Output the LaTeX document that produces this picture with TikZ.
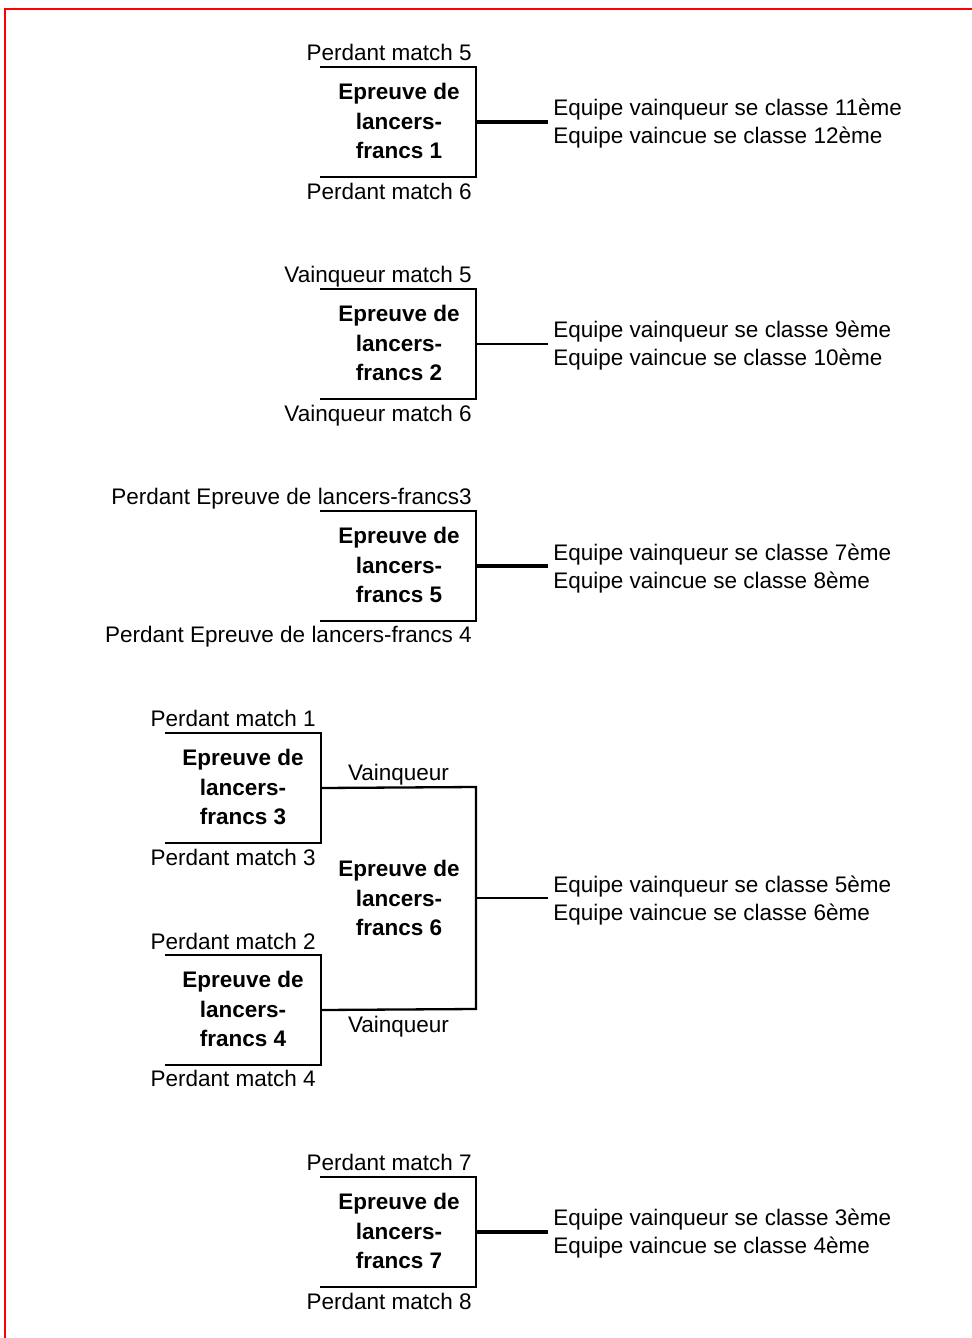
\documentclass[tikz,border=0pt]{standalone}
\usepackage{fontspec}
\setmainfont{Liberation Sans}
\usetikzlibrary{calc}

\begin{document}
\begin{tikzpicture}[x=0.5pt,y=-0.5pt,
  lbl/.style={inner sep=0pt,anchor=base east,font=\fontsize{11.25}{14}\selectfont},
  titre/.style={align=center,inner sep=0pt,font=\fontsize{11.25}{14.75}\selectfont\bfseries},
  res/.style={align=left,inner sep=0pt,anchor=west,font=\fontsize{11.25}{14}\selectfont},
  trait/.style={line width=1.15pt},
  sortie/.style={line width=1.7pt},
  fine/.style={line width=0.8pt}]
 		\useasboundingbox (0,0) rectangle (972,1338);
 		\draw[red,line width=1.1pt] (5,1338) -- (5,9) -- (972,9);

 		% epreuve 1
 		\node[titre]  (e1)  at (399,121)  {Epreuve de\\lancers-\\francs 1};
 		\node[lbl]    (p5)  at (472,61)   {Perdant match 5};
 		\node[lbl]    (p6)  at (472,199)  {Perdant match 6};
 		\node[res]    (r1)  at (553,124)  {Equipe vainqueur se classe 11ème\\Equipe vaincue se classe 12ème};
 		\coordinate (e1a) at (320,67);  \coordinate (e1b) at (476,67);
 		\coordinate (e1c) at (476,177); \coordinate (e1d) at (320,177);
 		\coordinate (e1m) at ($(e1b)!0.5!(e1c)$);
 		\draw[trait]  (e1a) -- (e1b) -- (e1c) -- (e1d);
 		\draw[sortie] (e1m) -- ([xshift=-2.5pt]e1m -| r1.west);

 		% epreuve 2
 		\node[titre]  (e2)  at (399,343)  {Epreuve de\\lancers-\\francs 2};
 		\node[lbl]    (v5)  at (472,282)  {Vainqueur match 5};
 		\node[lbl]    (v6)  at (472,421)  {Vainqueur match 6};
 		\node[res]    (r2)  at (553,346)  {Equipe vainqueur se classe 9ème\\Equipe vaincue se classe 10ème};
 		\coordinate (e2a) at (320,289); \coordinate (e2b) at (476,289);
 		\coordinate (e2c) at (476,399); \coordinate (e2d) at (320,399);
 		\coordinate (e2m) at ($(e2b)!0.5!(e2c)$);
 		\draw[trait]  (e2a) -- (e2b) -- (e2c) -- (e2d);
 		\draw[fine]   (e2m) -- ([xshift=-2.5pt]e2m -| r2.west);

 		% epreuve 5
 		\node[titre]  (e5)  at (399,565)  {Epreuve de\\lancers-\\francs 5};
 		\node[lbl]    (pe3) at (472,504)  {Perdant Epreuve de lancers-francs3};
 		\node[lbl]    (pe4) at (472,642)  {Perdant Epreuve de lancers-francs 4};
 		\node[res]    (r5)  at (553,569)  {Equipe vainqueur se classe 7ème\\Equipe vaincue se classe 8ème};
 		\coordinate (e5a) at (320,511); \coordinate (e5b) at (476,511);
 		\coordinate (e5c) at (476,621); \coordinate (e5d) at (320,621);
 		\coordinate (e5m) at ($(e5b)!0.5!(e5c)$);
 		\draw[trait]  (e5a) -- (e5b) -- (e5c) -- (e5d);
 		\draw[sortie] (e5m) -- ([xshift=-2.5pt]e5m -| r5.west);

 		% epreuves 3 et 4, puis 6
 		\node[titre]  (e3)  at (243,787)  {Epreuve de\\lancers-\\francs 3};
 		\node[lbl]    (p1)  at (316,726)  {Perdant match 1};
 		\node[lbl]    (p3)  at (316,865)  {Perdant match 3};
 		\coordinate (e3a) at (165,733); \coordinate (e3b) at (321,733);
 		\coordinate (e3c) at (321,843); \coordinate (e3d) at (165,843);
 		\draw[trait]  (e3a) -- (e3b) -- (e3c) -- (e3d);

 		\node[titre]  (e4)  at (243,1009) {Epreuve de\\lancers-\\francs 4};
 		\node[lbl]    (p2)  at (316,949)  {Perdant match 2};
 		\node[lbl]    (p4)  at (316,1086) {Perdant match 4};
 		\coordinate (e4a) at (165,955);  \coordinate (e4b) at (321,955);
 		\coordinate (e4c) at (321,1065); \coordinate (e4d) at (165,1065);
 		\draw[trait]  (e4a) -- (e4b) -- (e4c) -- (e4d);

 		\node[titre]  (e6)  at (399,898)  {Epreuve de\\lancers-\\francs 6};
 		\node[res]    (r6)  at (553,901)  {Equipe vainqueur se classe 5ème\\Equipe vaincue se classe 6ème};
 		\coordinate (e6a) at (476,787); \coordinate (e6b) at (476,1009);
 		\coordinate (e6m) at ($(e6a)!0.5!(e6b)$);
 		\draw[trait]  ($(e3b)!0.5!(e3c)$) -- node[above=-2.5pt,font=\fontsize{11.25}{14}\selectfont] (w3) {Vainqueur} (e6a)
 		              -- (e6b) -- node[below=-0.5pt,font=\fontsize{11.25}{14}\selectfont] (w4) {Vainqueur} ($(e4b)!0.5!(e4c)$);
 		\draw[fine]   (e6m) -- ([xshift=-2.5pt]e6m -| r6.west);

 		% epreuve 7
 		\node[titre]  (e7)  at (399,1231) {Epreuve de\\lancers-\\francs 7};
 		\node[lbl]    (p7)  at (472,1170) {Perdant match 7};
 		\node[lbl]    (p8)  at (472,1309) {Perdant match 8};
 		\node[res]    (r7)  at (553,1234) {Equipe vainqueur se classe 3ème\\Equipe vaincue se classe 4ème};
 		\coordinate (e7a) at (320,1177); \coordinate (e7b) at (476,1177);
 		\coordinate (e7c) at (476,1287); \coordinate (e7d) at (320,1287);
 		\coordinate (e7m) at ($(e7b)!0.5!(e7c)$);
 		\draw[trait]  (e7a) -- (e7b) -- (e7c) -- (e7d);
 		\draw[sortie] (e7m) -- ([xshift=-2.5pt]e7m -| r7.west);
\end{tikzpicture}
\end{document}
